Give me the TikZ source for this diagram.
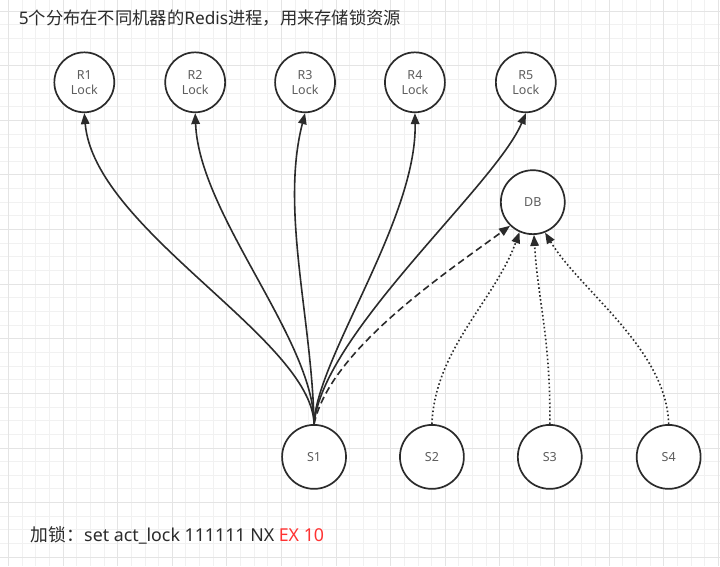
\documentclass[tikz,border=0pt]{standalone}
\usepackage{fontspec}
\setmainfont{Noto Sans}
\newfontfamily\cjkfont{Noto Sans CJK SC}
\usetikzlibrary{arrows.meta,positioning}
\definecolor{linegray}{HTML}{2B2B2B}
\definecolor{textgray}{HTML}{5E5E5E}
\definecolor{titlegray}{HTML}{2B2B2B}
\definecolor{gridminor}{HTML}{F1F1F1}
\definecolor{gridmajor}{HTML}{E4E4E4}
\definecolor{exred}{HTML}{FF3333}

\begin{document}
\begin{tikzpicture}[x=1pt, y=-1pt,
    every node/.style={font=\fontsize{12.5}{15}\selectfont, text=textgray},
    proc/.style={circle, draw=linegray, line width=1.7pt, fill=white,
                 minimum size=62pt, inner sep=0pt, align=center},
    lockline/.style={draw=linegray, line width=1.6pt,
                     -{Triangle[length=11pt,width=8.5pt]}},
    dbdash/.style={lockline, dash pattern=on 7pt off 4pt},
    dbdot/.style={lockline, dash pattern=on 1.6pt off 2.4pt},
    caption/.style={anchor=west, text=titlegray, font=\fontsize{17.3}{20}\selectfont},
]

% background grid
\fill[white] (0,0) rectangle (720,566);
\foreach \i in {0,...,52}
  \draw[gridminor, line width=0.8pt] ({8+\i*13.666},0) -- ({8+\i*13.666},566);
\foreach \i in {0,...,40}
  \draw[gridminor, line width=0.8pt] (0,{10.7+\i*13.666}) -- (720,{10.7+\i*13.666});
\foreach \i in {0,4,...,52}
  \draw[gridmajor, line width=0.8pt] ({8+\i*13.666},0) -- ({8+\i*13.666},566);
\foreach \i in {0,4,...,40}
  \draw[gridmajor, line width=0.8pt] (0,{10.7+\i*13.666}) -- (720,{10.7+\i*13.666});
\useasboundingbox (0,0) rectangle (720,566);

\node[caption] (title) at (15,18) {5{\cjkfont 个分布在不同机器的}Redis{\cjkfont 进程，用来存储锁资源}};

% redis nodes
\node[proc, minimum size=60pt] (r1) at (84,82)  {R1\\Lock};
\node[proc, minimum size=60pt] (r2) at (195,82) {R2\\Lock};
\node[proc, minimum size=60pt] (r3) at (305,82) {R3\\Lock};
\node[proc, minimum size=60pt] (r4) at (415,82) {R4\\Lock};
\node[proc, minimum size=60pt] (r5) at (526,82) {R5\\Lock};

\node[proc, minimum size=64pt] (db) at (533,202) {DB};

% service nodes
\node[proc, minimum size=64pt] (s1) at (314,457) {S1};
\node[proc, minimum size=64pt] (s2) at (432,457) {S2};
\node[proc, minimum size=64pt] (s3) at (550,457) {S3};
\node[proc, minimum size=64pt] (s4) at (669,457) {S4};

% S1 takes the lock on every redis
\draw[lockline] (s1.north) .. controls +(-2,-85) and +(10,117) .. (r1.south);
\draw[lockline] (s1.north) .. controls +(0,-85) and +(4,102) .. (r2.south);
\draw[lockline] (s1.north) .. controls +(-2,-105) and +(-25,97) .. (r3.south);
\draw[lockline] (s1.north) .. controls +(2,-65) and +(2,107) .. (r4.south);
\draw[lockline] (s1.north) .. controls +(8,-90) and +(-30,72) .. (r5.south);

% access to DB
\draw[dbdash] (s1.north) .. controls +(16,-75) and +(-61,45) .. (db.-134);
\draw[dbdot] (s2.north) .. controls +(3,-75) and +(-25,69) .. (db.-114);
\draw[dbdot] (s3.north) .. controls +(1,-85) and +(4,66) .. (db.-88);
\draw[dbdot] (s4.north) .. controls +(-2,-75) and +(35,58) .. (db.-68);

\node[caption, font=\fontsize{17.8}{20}\selectfont] (cmd) at (27,536) {{\cjkfont 加锁：}set act\_lock 111111 NX \textcolor{exred}{EX 10}};

\end{tikzpicture}
\end{document}
